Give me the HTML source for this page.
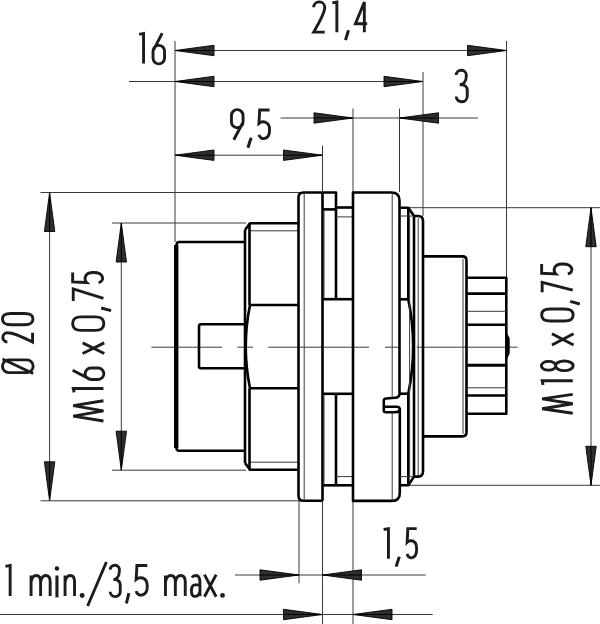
<!DOCTYPE html>
<html><head><meta charset="utf-8"><style>
html,body{margin:0;padding:0;background:#fff;width:600px;height:624px;overflow:hidden}
svg{display:block}
</style></head><body>
<svg width="600" height="624" viewBox="0 0 600 624">
<rect width="600" height="624" fill="#fff"/>
<line x1="175.0" y1="41" x2="175.0" y2="242" stroke="#3a3a3a" stroke-width="1.0"/>
<line x1="506.5" y1="41" x2="506.5" y2="277" stroke="#3a3a3a" stroke-width="1.0"/>
<line x1="175.0" y1="50.5" x2="506.5" y2="50.5" stroke="#3a3a3a" stroke-width="1.0"/>
<polygon points="175.0,50.5 214.0,45.3 214.0,55.7" fill="#2e2e2e" stroke="#000" stroke-width="0.9" stroke-linejoin="miter"/>
<line x1="175.0" y1="50.5" x2="214.0" y2="50.5" stroke="#000" stroke-width="1"/>
<polygon points="506.5,50.5 467.5,45.3 467.5,55.7" fill="#2e2e2e" stroke="#000" stroke-width="0.9" stroke-linejoin="miter"/>
<line x1="506.5" y1="50.5" x2="467.5" y2="50.5" stroke="#000" stroke-width="1"/>
<line x1="129" y1="81.5" x2="423" y2="81.5" stroke="#3a3a3a" stroke-width="1.0"/>
<polygon points="175.0,81.5 214.0,76.3 214.0,86.7" fill="#2e2e2e" stroke="#000" stroke-width="0.9" stroke-linejoin="miter"/>
<line x1="175.0" y1="81.5" x2="214.0" y2="81.5" stroke="#000" stroke-width="1"/>
<polygon points="423,81.5 384,76.3 384,86.7" fill="#2e2e2e" stroke="#000" stroke-width="0.9" stroke-linejoin="miter"/>
<line x1="423" y1="81.5" x2="384" y2="81.5" stroke="#000" stroke-width="1"/>
<line x1="423" y1="72" x2="423" y2="216" stroke="#3a3a3a" stroke-width="1.0"/>
<line x1="280.5" y1="118" x2="478" y2="118" stroke="#3a3a3a" stroke-width="1.0"/>
<polygon points="353,118 314,112.8 314,123.2" fill="#2e2e2e" stroke="#000" stroke-width="0.9" stroke-linejoin="miter"/>
<line x1="353" y1="118" x2="314" y2="118" stroke="#000" stroke-width="1"/>
<polygon points="399.5,118 438.5,112.8 438.5,123.2" fill="#2e2e2e" stroke="#000" stroke-width="0.9" stroke-linejoin="miter"/>
<line x1="399.5" y1="118" x2="438.5" y2="118" stroke="#000" stroke-width="1"/>
<line x1="353" y1="108.5" x2="353" y2="192" stroke="#3a3a3a" stroke-width="1.0"/>
<line x1="399.5" y1="108.5" x2="399.5" y2="192" stroke="#3a3a3a" stroke-width="1.0"/>
<line x1="175.0" y1="155.2" x2="322.5" y2="155.2" stroke="#3a3a3a" stroke-width="1.0"/>
<polygon points="175.0,155.2 214.0,150.0 214.0,160.39999999999998" fill="#2e2e2e" stroke="#000" stroke-width="0.9" stroke-linejoin="miter"/>
<line x1="175.0" y1="155.2" x2="214.0" y2="155.2" stroke="#000" stroke-width="1"/>
<polygon points="322.5,155.2 283.5,150.0 283.5,160.39999999999998" fill="#2e2e2e" stroke="#000" stroke-width="0.9" stroke-linejoin="miter"/>
<line x1="322.5" y1="155.2" x2="283.5" y2="155.2" stroke="#000" stroke-width="1"/>
<line x1="322.5" y1="145.5" x2="322.5" y2="192" stroke="#3a3a3a" stroke-width="1.0"/>
<line x1="40.5" y1="192.5" x2="300" y2="192.5" stroke="#3a3a3a" stroke-width="1.0"/>
<line x1="112" y1="223" x2="246" y2="223" stroke="#3a3a3a" stroke-width="1.0"/>
<line x1="49.6" y1="192.5" x2="49.6" y2="500.8" stroke="#3a3a3a" stroke-width="1.0"/>
<polygon points="49.6,192.5 44.4,231.5 54.800000000000004,231.5" fill="#2e2e2e" stroke="#000" stroke-width="0.9" stroke-linejoin="miter"/>
<line x1="49.6" y1="192.5" x2="49.6" y2="231.5" stroke="#000" stroke-width="1"/>
<polygon points="49.6,500.8 44.4,461.8 54.800000000000004,461.8" fill="#2e2e2e" stroke="#000" stroke-width="0.9" stroke-linejoin="miter"/>
<line x1="49.6" y1="500.8" x2="49.6" y2="461.8" stroke="#000" stroke-width="1"/>
<line x1="121.3" y1="223" x2="121.3" y2="470.2" stroke="#3a3a3a" stroke-width="1.0"/>
<polygon points="121.3,223 116.1,262 126.5,262" fill="#2e2e2e" stroke="#000" stroke-width="0.9" stroke-linejoin="miter"/>
<line x1="121.3" y1="223" x2="121.3" y2="262" stroke="#000" stroke-width="1"/>
<polygon points="121.3,470.2 116.1,431.2 126.5,431.2" fill="#2e2e2e" stroke="#000" stroke-width="0.9" stroke-linejoin="miter"/>
<line x1="121.3" y1="470.2" x2="121.3" y2="431.2" stroke="#000" stroke-width="1"/>
<line x1="40.5" y1="500.8" x2="300" y2="500.8" stroke="#3a3a3a" stroke-width="1.0"/>
<line x1="112" y1="470.2" x2="246" y2="470.2" stroke="#3a3a3a" stroke-width="1.0"/>
<line x1="408" y1="207.7" x2="600" y2="207.7" stroke="#3a3a3a" stroke-width="1.0"/>
<line x1="408.5" y1="485.3" x2="600" y2="485.3" stroke="#3a3a3a" stroke-width="1.0"/>
<line x1="591" y1="207.7" x2="591" y2="485.3" stroke="#3a3a3a" stroke-width="1.0"/>
<polygon points="591,207.7 585.8,246.7 596.2,246.7" fill="#2e2e2e" stroke="#000" stroke-width="0.9" stroke-linejoin="miter"/>
<line x1="591" y1="207.7" x2="591" y2="246.7" stroke="#000" stroke-width="1"/>
<polygon points="591,485.3 585.8,446.3 596.2,446.3" fill="#2e2e2e" stroke="#000" stroke-width="0.9" stroke-linejoin="miter"/>
<line x1="591" y1="485.3" x2="591" y2="446.3" stroke="#000" stroke-width="1"/>
<line x1="299" y1="500.8" x2="299" y2="583.3" stroke="#3a3a3a" stroke-width="1.0"/>
<line x1="322.5" y1="500.8" x2="322.5" y2="624" stroke="#3a3a3a" stroke-width="1.0"/>
<line x1="353.0" y1="500.8" x2="353.0" y2="624" stroke="#3a3a3a" stroke-width="1.0"/>
<line x1="235" y1="575" x2="425.7" y2="575" stroke="#3a3a3a" stroke-width="1.0"/>
<polygon points="299,575 260,569.8 260,580.2" fill="#2e2e2e" stroke="#000" stroke-width="0.9" stroke-linejoin="miter"/>
<line x1="299" y1="575" x2="260" y2="575" stroke="#000" stroke-width="1"/>
<polygon points="322.5,575 361.5,569.8 361.5,580.2" fill="#2e2e2e" stroke="#000" stroke-width="0.9" stroke-linejoin="miter"/>
<line x1="322.5" y1="575" x2="361.5" y2="575" stroke="#000" stroke-width="1"/>
<line x1="0" y1="614.5" x2="432.7" y2="614.5" stroke="#3a3a3a" stroke-width="1.0"/>
<polygon points="322.5,614.5 283.5,609.3 283.5,619.7" fill="#2e2e2e" stroke="#000" stroke-width="0.9" stroke-linejoin="miter"/>
<line x1="322.5" y1="614.5" x2="283.5" y2="614.5" stroke="#000" stroke-width="1"/>
<polygon points="353.0,614.5 392.0,609.3 392.0,619.7" fill="#2e2e2e" stroke="#000" stroke-width="0.9" stroke-linejoin="miter"/>
<line x1="353.0" y1="614.5" x2="392.0" y2="614.5" stroke="#000" stroke-width="1"/>
<line x1="151.3" y1="347.2" x2="222" y2="347.2" stroke="#3a3a3a" stroke-width="1.0"/>
<line x1="237.5" y1="347.2" x2="253" y2="347.2" stroke="#3a3a3a" stroke-width="1.0"/>
<line x1="268.3" y1="347.2" x2="369" y2="347.2" stroke="#3a3a3a" stroke-width="1.0"/>
<line x1="385" y1="347.2" x2="400" y2="347.2" stroke="#3a3a3a" stroke-width="1.0"/>
<line x1="416.7" y1="347.2" x2="517.7" y2="347.2" stroke="#3a3a3a" stroke-width="1.0"/>
<path d="M245,242 H179.3 Q176.5,242 176.5,245 V448 Q176.5,450.8 179.3,450.8 H245" stroke="#000" stroke-width="2.6" fill="none" stroke-linejoin="round"/>
<line x1="176.2" y1="245" x2="176.2" y2="448" stroke="#000" stroke-width="4.4"/>
<path d="M245,324.3 H201 Q199,324.3 199,326.3 V366.3 Q199,368.3 201,368.3 H245" stroke="#000" stroke-width="2.6" fill="none" stroke-linejoin="round"/>
<path d="M245,230 L250,223.3 H298.5" stroke="#000" stroke-width="2.6" fill="none" stroke-linejoin="round"/>
<path d="M245,463 L250,469.8 H298.5" stroke="#000" stroke-width="2.6" fill="none" stroke-linejoin="round"/>
<line x1="250" y1="230.8" x2="298.5" y2="230.8" stroke="#3a3a3a" stroke-width="1.0"/>
<line x1="250" y1="462.2" x2="298.5" y2="462.2" stroke="#3a3a3a" stroke-width="1.0"/>
<line x1="245" y1="230" x2="245" y2="463" stroke="#000" stroke-width="2.6"/>
<line x1="249.5" y1="223.3" x2="249.5" y2="305" stroke="#000" stroke-width="2.6"/>
<line x1="249.5" y1="388.3" x2="249.5" y2="469.8" stroke="#000" stroke-width="2.6"/>
<line x1="249.5" y1="305" x2="298.5" y2="305" stroke="#000" stroke-width="2.6"/>
<line x1="249.5" y1="388.3" x2="298.5" y2="388.3" stroke="#000" stroke-width="2.6"/>
<path d="M250,305 Q241.5,346.6 250,388.3" stroke="#000" stroke-width="2.6" fill="none" stroke-linejoin="round"/>
<path d="M322.5,192.5 H303.5 Q298.5,192.5 298.5,197.5 V495.8 Q298.5,500.8 303.5,500.8 H322.5" stroke="#000" stroke-width="2.6" fill="none" stroke-linejoin="round"/>
<line x1="322.5" y1="192.5" x2="322.5" y2="500.8" stroke="#000" stroke-width="2.6"/>
<line x1="304.2" y1="192.5" x2="304.2" y2="500.8" stroke="#3a3a3a" stroke-width="1.0"/>
<path d="M322.5,192.5 H336 V299.2" stroke="#000" stroke-width="2.6" fill="none" stroke-linejoin="round"/>
<line x1="322.5" y1="209.4" x2="336" y2="209.4" stroke="#000" stroke-width="2.6"/>
<line x1="336" y1="207.5" x2="353.3" y2="207.5" stroke="#000" stroke-width="2.6"/>
<line x1="336" y1="216.9" x2="353.3" y2="216.9" stroke="#3a3a3a" stroke-width="1.0"/>
<line x1="322.5" y1="299.2" x2="353.3" y2="299.2" stroke="#000" stroke-width="2.6"/>
<line x1="322.5" y1="393.8" x2="353.3" y2="393.8" stroke="#000" stroke-width="2.6"/>
<line x1="336" y1="393.8" x2="336" y2="485.3" stroke="#000" stroke-width="2.6"/>
<line x1="322.5" y1="485.3" x2="353.3" y2="485.3" stroke="#000" stroke-width="2.6"/>
<line x1="336" y1="476.6" x2="353.3" y2="476.6" stroke="#3a3a3a" stroke-width="1.0"/>
<line x1="324" y1="210" x2="324" y2="299" stroke="#3a3a3a" stroke-width="1.0"/>
<line x1="324" y1="394" x2="324" y2="485" stroke="#3a3a3a" stroke-width="1.0"/>
<path d="M353.0,192.5 H391.3 Q399.5,192.5 399.5,200.5 V393.5 Q399.5,397.6 395,397.8 L386,398.5 Q383.8,398.6 383.8,400.6 V410.2 Q383.8,412.2 385.8,412.2 H394.5 Q399.8,412.2 399.8,409.5 V492.9 Q399.8,500.9 391.8,500.9 H353.0 Z" stroke="#000" stroke-width="2.6" fill="none" stroke-linejoin="round"/>
<path d="M383.8,406.8 H397 Q399.8,406.8 399.8,409.8" stroke="#000" stroke-width="2.6" fill="none" stroke-linejoin="round"/>
<line x1="392.2" y1="192.5" x2="392.2" y2="397.6" stroke="#3a3a3a" stroke-width="1.0"/>
<line x1="392.2" y1="412.2" x2="392.2" y2="500.9" stroke="#3a3a3a" stroke-width="1.0"/>
<path d="M399.4,207.7 H408.3 L414,216 H418 Q423,216 423,221 V471.5 Q423,476.6 418,476.6 H414 L408.3,485.3 H399.8" stroke="#000" stroke-width="2.6" fill="none" stroke-linejoin="round"/>
<line x1="408.3" y1="207.7" x2="408.3" y2="299.3" stroke="#000" stroke-width="2.6"/>
<line x1="408.3" y1="393.7" x2="408.3" y2="485.3" stroke="#000" stroke-width="2.6"/>
<line x1="399.4" y1="299.3" x2="408.3" y2="299.3" stroke="#000" stroke-width="2.6"/>
<line x1="399.4" y1="393.7" x2="408.3" y2="393.7" stroke="#000" stroke-width="2.6"/>
<path d="M408.3,299.3 Q418,346.5 408.3,393.7" stroke="#000" stroke-width="2.6" fill="none" stroke-linejoin="round"/>
<line x1="414" y1="216" x2="414" y2="476.6" stroke="#000" stroke-width="2.6"/>
<line x1="399.4" y1="216" x2="414" y2="216" stroke="#3a3a3a" stroke-width="1.0"/>
<line x1="399.8" y1="476.6" x2="414" y2="476.6" stroke="#3a3a3a" stroke-width="1.0"/>
<line x1="409.6" y1="216" x2="409.6" y2="476.6" stroke="#3a3a3a" stroke-width="1.0"/>
<line x1="418.2" y1="218" x2="418.2" y2="475" stroke="#3a3a3a" stroke-width="1.0"/>
<path d="M423,256.4 H462.4 Q466.5,256.4 466.5,260.5 V432.3 Q466.5,436.4 462.4,436.4 H423" stroke="#000" stroke-width="2.6" fill="none" stroke-linejoin="round"/>
<line x1="463" y1="259" x2="463" y2="434" stroke="#3a3a3a" stroke-width="1.0"/>
<path d="M466.5,277.7 H506.3 V413.7 H466.5" stroke="#000" stroke-width="2.6" fill="none" stroke-linejoin="round"/>
<line x1="466.5" y1="293.6" x2="506.3" y2="293.6" stroke="#000" stroke-width="2.6"/>
<line x1="466.5" y1="324.8" x2="506.3" y2="324.8" stroke="#000" stroke-width="2.6"/>
<line x1="466.5" y1="395.5" x2="506.3" y2="395.5" stroke="#000" stroke-width="2.6"/>
<line x1="466.5" y1="365.2" x2="506.3" y2="365.2" stroke="#000" stroke-width="3.0"/>
<line x1="466.5" y1="311.3" x2="506.3" y2="311.3" stroke="#3a3a3a" stroke-width="1.0"/>
<line x1="466.5" y1="387.8" x2="506.3" y2="387.8" stroke="#3a3a3a" stroke-width="1.0"/>
<path d="M506.5,334.5 L508.6,338.5 V353 L506.5,357.5 Z" stroke="#000" stroke-width="2.2" fill="#000" stroke-linejoin="round"/>
<g opacity="0.999"><path transform="translate(139.15,33.45)" d="M0,0.90 L4.40,0 V30.10" fill="none" stroke="#1c1c1c" stroke-width="2.9" stroke-miterlimit="3"/><path transform="translate(153.05,33.05)" d="M9.20,0 L0.12,17.50 M0,18.07 A5.75,5.75 0 0 1 11.50,18.07 V25.05 A5.75,5.75 0 0 1 0,25.05 Z" fill="none" stroke="#1c1c1c" stroke-width="2.9" stroke-miterlimit="3"/><path transform="translate(313.65,2.05)" d="M0,5.27 A5.55,5.55 0 0 1 11.10,5.55 C11.10,8.60 8.88,15.05 0,30.10 H11.10" fill="none" stroke="#1c1c1c" stroke-width="2.9" stroke-miterlimit="3"/><path transform="translate(332.35,2.05)" d="M0,0.90 L4.50,0 V30.10" fill="none" stroke="#1c1c1c" stroke-width="2.9" stroke-miterlimit="3"/><line x1="348.50" y1="30.30" x2="345.50" y2="40.10" stroke="#1c1c1c" stroke-width="3.0"/><path transform="translate(355.45,2.05)" d="M8.89,30.10 V0 L0,21.67 H11.70" fill="none" stroke="#1c1c1c" stroke-width="2.9" stroke-miterlimit="3"/><path transform="translate(456.15,70.45)" d="M0,4.60 A5.11,5.11 0 0 1 10.21,5.11 C10.21,11.41 6.88,14.26 3.55,14.26 H5.55 A5.55,5.55 0 0 1 11.10,19.81 V25.45 A5.55,5.55 0 0 1 0,26.01" fill="none" stroke="#1c1c1c" stroke-width="2.9" stroke-miterlimit="3"/><path transform="translate(231.45,109.65)" d="M2.32,30.10 L11.48,12.84 M0,5.80 A5.80,5.80 0 0 1 11.60,5.80 V12.26 A5.80,5.80 0 0 1 0,12.26 Z" fill="none" stroke="#1c1c1c" stroke-width="2.9" stroke-miterlimit="3"/><line x1="251.10" y1="137.70" x2="247.90" y2="147.80" stroke="#1c1c1c" stroke-width="3.0"/><path transform="translate(258.95,109.95)" d="M10.60,0 H0.74 L0,13.41 C2.33,11.32 10.60,9.83 10.60,19.97 C10.60,30.40 1.27,30.69 0,24.73" fill="none" stroke="#1c1c1c" stroke-width="2.9" stroke-miterlimit="3"/><path transform="translate(383.65,528.65)" d="M0,0.90 L4.80,0 V30.10" fill="none" stroke="#1c1c1c" stroke-width="2.9" stroke-miterlimit="3"/><line x1="399.30" y1="556.70" x2="396.10" y2="566.60" stroke="#1c1c1c" stroke-width="3.0"/><path transform="translate(407.15,528.65)" d="M9.50,0 H0.67 L0,13.68 C2.09,11.55 9.50,10.03 9.50,20.37 C9.50,31.01 1.14,31.31 0,25.23" fill="none" stroke="#1c1c1c" stroke-width="2.9" stroke-miterlimit="3"/><path transform="translate(5.45,565.45)" d="M0,0.91 L4.70,0 V30.50" fill="none" stroke="#1c1c1c" stroke-width="2.9" stroke-miterlimit="3"/><path transform="translate(31.05,575.45)" d="M0,0 V20.50 M0,6.56 C0.96,1.02 3.25,0 5.16,0 C7.83,0 9.55,2.05 9.55,6.15 V20.50 M9.55,6.56 C10.51,1.02 12.80,0 14.71,0 C17.38,0 19.10,2.05 19.10,6.15 V20.50" fill="none" stroke="#1c1c1c" stroke-width="2.9" stroke-miterlimit="3"/><rect x="55.40" y="575.50" width="3.1" height="21.90" fill="#1c1c1c"/><circle cx="56.95" cy="568.60" r="2.25" fill="#1c1c1c"/><path transform="translate(65.05,575.45)" d="M0,0 V20.50 M0,6.56 C0.95,1.02 3.13,0 5.22,0 C8.17,0 9.50,2.05 9.50,6.15 V20.50" fill="none" stroke="#1c1c1c" stroke-width="2.9" stroke-miterlimit="3"/><circle cx="82.15" cy="595.45" r="2.45" fill="#1c1c1c"/><line x1="87.60" y1="606.00" x2="106.40" y2="562.00" stroke="#1c1c1c" stroke-width="2.9"/><path transform="translate(110.15,565.45)" d="M0,4.18 A4.65,4.65 0 0 1 9.29,4.65 C9.29,11.37 6.26,14.21 3.23,14.21 H5.05 A5.05,5.05 0 0 1 10.10,19.26 V25.85 A5.05,5.05 0 0 1 0,26.35" fill="none" stroke="#1c1c1c" stroke-width="2.9" stroke-miterlimit="3"/><line x1="128.90" y1="593.20" x2="126.40" y2="603.30" stroke="#1c1c1c" stroke-width="3.0"/><path transform="translate(136.15,565.45)" d="M11.15,0 H0.78 L0,13.90 C2.45,11.74 11.15,10.20 11.15,20.70 C11.15,31.52 1.34,31.83 0,25.65" fill="none" stroke="#1c1c1c" stroke-width="2.9" stroke-miterlimit="3"/><path transform="translate(165.45,575.45)" d="M0,0 V20.50 M0,6.56 C0.99,1.02 3.37,0 5.35,0 C8.12,0 9.90,2.05 9.90,6.15 V20.50 M9.90,6.56 C10.89,1.02 13.27,0 15.25,0 C18.02,0 19.80,2.05 19.80,6.15 V20.50" fill="none" stroke="#1c1c1c" stroke-width="2.9" stroke-miterlimit="3"/><path transform="translate(191.45,575.45)" d="M0.43,2.09 C1.70,0.21 3.23,0 4.42,0 C7.31,0 8.50,2.51 8.50,7.31 V20.90 M8.50,9.40 H3.57 C1.02,9.40 0,12.12 0,15.47 C0,19.23 1.28,20.90 3.57,20.90 C6.12,20.90 8.50,18.39 8.50,15.05" fill="none" stroke="#1c1c1c" stroke-width="2.9" stroke-miterlimit="3"/><path transform="translate(205.05,575.45)" d="M-0.6,-0.8 L11.10,21.30 M11.10,-0.8 L-0.6,21.30" fill="none" stroke="#1c1c1c" stroke-width="2.9" stroke-miterlimit="3"/><circle cx="222.50" cy="595.40" r="2.40" fill="#1c1c1c"/><path transform="translate(73.25,420.95) rotate(-90)" d="M0,30.20 L4.85,0 L10.10,30.20 L15.35,0 L20.20,30.20" fill="none" stroke="#1c1c1c" stroke-width="2.9" stroke-miterlimit="3"/><path transform="translate(73.25,392.35) rotate(-90)" d="M0,0.91 L3.90,0 V30.20" fill="none" stroke="#1c1c1c" stroke-width="2.9" stroke-miterlimit="3"/><path transform="translate(72.65,379.45) rotate(-90)" d="M9.12,0 L0.11,17.61 M0,18.18 A5.70,5.70 0 0 1 11.40,18.18 V25.50 A5.70,5.70 0 0 1 0,25.50 Z" fill="none" stroke="#1c1c1c" stroke-width="2.9" stroke-miterlimit="3"/><path transform="translate(83.45,352.85) rotate(-90)" d="M-0.6,-0.8 L10.00,20.80 M10.00,-0.8 L-0.6,20.80" fill="none" stroke="#1c1c1c" stroke-width="2.9" stroke-miterlimit="3"/><path transform="translate(72.65,330.35) rotate(-90)" d="M6.75,0 C12.96,0 13.50,4.37 13.50,8.74 V22.46 C13.50,26.83 12.96,31.20 6.75,31.20 C0.54,31.20 0,26.83 0,22.46 V8.74 C0,4.37 0.54,0 6.75,0 Z" fill="none" stroke="#1c1c1c" stroke-width="2.9" stroke-miterlimit="3"/><line x1="101.20" y1="308.00" x2="111.10" y2="310.60" stroke="#1c1c1c" stroke-width="3.0"/><path transform="translate(73.25,301.05) rotate(-90)" d="M0,0 H12.10 L2.66,30.20" fill="none" stroke="#1c1c1c" stroke-width="2.9" stroke-miterlimit="3"/><path transform="translate(72.65,282.55) rotate(-90)" d="M10.00,0 H0.70 L0,14.04 C2.20,11.86 10.00,10.30 10.00,20.90 C10.00,31.82 1.20,32.14 0,25.90" fill="none" stroke="#1c1c1c" stroke-width="2.9" stroke-miterlimit="3"/><path transform="translate(542.15,413.25) rotate(-90)" d="M0,30.60 L4.54,0 L9.45,30.60 L14.36,0 L18.90,30.60" fill="none" stroke="#1c1c1c" stroke-width="2.9" stroke-miterlimit="3"/><path transform="translate(542.15,385.05) rotate(-90)" d="M0,0.92 L4.30,0 V30.60" fill="none" stroke="#1c1c1c" stroke-width="2.9" stroke-miterlimit="3"/><path transform="translate(541.65,370.65) rotate(-90)" d="M0.49,6.93 A4.37,6.93 0 1 1 9.22,6.93 A4.37,6.93 0 1 1 0.49,6.93 Z M0,22.68 A4.85,8.82 0 1 1 9.70,22.68 A4.85,8.82 0 1 1 0,22.68 Z" fill="none" stroke="#1c1c1c" stroke-width="2.9" stroke-miterlimit="3"/><path transform="translate(552.75,344.45) rotate(-90)" d="M-0.6,-0.8 L10.70,20.80 M10.70,-0.8 L-0.6,20.80" fill="none" stroke="#1c1c1c" stroke-width="2.9" stroke-miterlimit="3"/><path transform="translate(541.65,320.95) rotate(-90)" d="M6.00,0 C11.52,0 12.00,4.41 12.00,8.82 V22.68 C12.00,27.09 11.52,31.50 6.00,31.50 C0.48,31.50 0,27.09 0,22.68 V8.82 C0,4.41 0.48,0 6.00,0 Z" fill="none" stroke="#1c1c1c" stroke-width="2.9" stroke-miterlimit="3"/><line x1="570.20" y1="301.40" x2="579.80" y2="304.00" stroke="#1c1c1c" stroke-width="3.0"/><path transform="translate(542.15,292.35) rotate(-90)" d="M0,0 H10.00 L2.20,30.60" fill="none" stroke="#1c1c1c" stroke-width="2.9" stroke-miterlimit="3"/><path transform="translate(541.65,273.95) rotate(-90)" d="M10.00,0 H0.70 L0,14.17 C2.20,11.97 10.00,10.39 10.00,21.10 C10.00,32.13 1.20,32.44 0,26.14" fill="none" stroke="#1c1c1c" stroke-width="2.9" stroke-miterlimit="3"/><path transform="translate(2.45,373.45) rotate(-90)" d="M0.86,6.34 A6.34,6.34 0 0 1 13.54,6.34 V24.36 A6.34,6.34 0 0 1 0.86,24.36 Z M0,30.70 L14.40,0" fill="none" stroke="#1c1c1c" stroke-width="2.9" stroke-miterlimit="3"/><path transform="translate(2.95,342.05) rotate(-90)" d="M0,4.42 A4.65,4.65 0 0 1 9.30,4.65 C9.30,7.21 7.44,14.80 0,29.60 H9.30" fill="none" stroke="#1c1c1c" stroke-width="2.9" stroke-miterlimit="3"/><path transform="translate(2.45,324.75) rotate(-90)" d="M5.65,0 C10.85,0 11.30,4.27 11.30,8.54 V21.96 C11.30,26.23 10.85,30.50 5.65,30.50 C0.45,30.50 0,26.23 0,21.96 V8.54 C0,4.27 0.45,0 5.65,0 Z" fill="none" stroke="#1c1c1c" stroke-width="2.9" stroke-miterlimit="3"/></g>
</svg>
</body></html>
